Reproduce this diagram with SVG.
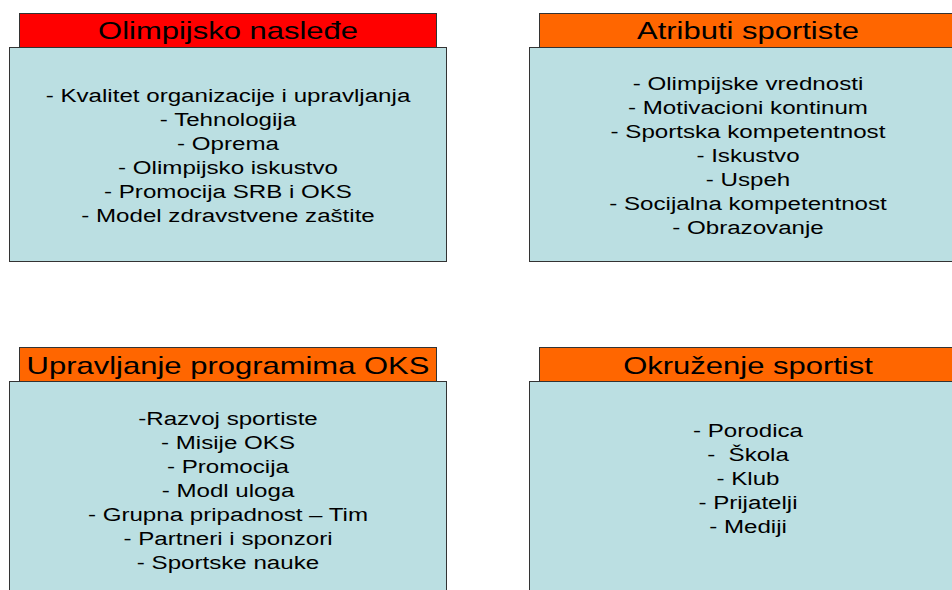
<svg xmlns="http://www.w3.org/2000/svg" width="952" height="590" viewBox="0 0 952 590">
<style>
.hdr-red{fill:#FF0000;stroke:#333;stroke-width:1}
.hdr-org{fill:#FF6600;stroke:#333;stroke-width:1}
.body{fill:#BBDFE2;stroke:#333;stroke-width:1}
.title{font-family:"Liberation Sans",Arial,sans-serif;font-size:24.4px;fill:#000;text-anchor:middle}
.item{font-family:"Liberation Sans",Arial,sans-serif;font-size:19px;fill:#000;text-anchor:middle}
</style>
<rect width="952" height="590" fill="#fff"/>
<g id="olimpijsko-nasledje">
<rect class="hdr-red" x="19.5" y="13.5" width="417" height="34"/>
<rect class="body" x="9.5" y="47.5" width="437" height="214"/>
<g transform="translate(228 0) scale(1.27 1)">
<text class="title" x="0" y="39">Olimpijsko nasleđe</text>
<text class="item" x="0" y="102">- Kvalitet organizacije i upravljanja</text>
<text class="item" x="0" y="126">- Tehnologija</text>
<text class="item" x="0" y="150">- Oprema</text>
<text class="item" x="0" y="174">- Olimpijsko iskustvo</text>
<text class="item" x="0" y="198">- Promocija SRB i OKS</text>
<text class="item" x="0" y="222">- Model zdravstvene zaštite</text>
</g>
</g>
<g id="atributi-sportiste">
<rect class="hdr-org" x="539.5" y="13.5" width="418" height="34"/>
<rect class="body" x="529.5" y="47.5" width="438" height="214"/>
<g transform="translate(748 0) scale(1.27 1)">
<text class="title" x="0" y="39">Atributi sportiste</text>
<text class="item" x="0" y="90.5">- Olimpijske vrednosti</text>
<text class="item" x="0" y="114.5">- Motivacioni kontinum</text>
<text class="item" x="0" y="138.5">- Sportska kompetentnost</text>
<text class="item" x="0" y="162.5">- Iskustvo</text>
<text class="item" x="0" y="186.5">- Uspeh</text>
<text class="item" x="0" y="210.5">- Socijalna kompetentnost</text>
<text class="item" x="0" y="234">- Obrazovanje</text>
</g>
</g>
<g id="upravljanje-programima">
<rect class="hdr-org" x="19.5" y="347.5" width="417" height="34"/>
<rect class="body" x="9.5" y="381.5" width="437" height="220"/>
<g transform="translate(228 0) scale(1.27 1)">
<text class="title" x="0" y="374.5">Upravljanje programima OKS</text>
<text class="item" x="0" y="425">-Razvoj sportiste</text>
<text class="item" x="0" y="449">- Misije OKS</text>
<text class="item" x="0" y="473">- Promocija</text>
<text class="item" x="0" y="497">- Modl uloga</text>
<text class="item" x="0" y="521">- Grupna pripadnost – Tim</text>
<text class="item" x="0" y="545">- Partneri i sponzori</text>
<text class="item" x="0" y="569">- Sportske nauke</text>
</g>
</g>
<g id="okruzenje-sportist">
<rect class="hdr-org" x="539.5" y="347.5" width="418" height="34"/>
<rect class="body" x="529.5" y="381.5" width="438" height="220"/>
<g transform="translate(748 0) scale(1.27 1)">
<text class="title" x="0" y="374.5">Okruženje sportist</text>
<text class="item" x="0" y="437">- Porodica</text>
<text class="item" x="0" y="461" xml:space="preserve">-  Škola</text>
<text class="item" x="0" y="485">- Klub</text>
<text class="item" x="0" y="509">- Prijatelji</text>
<text class="item" x="0" y="533">- Mediji</text>
</g>
</g>
</svg>
